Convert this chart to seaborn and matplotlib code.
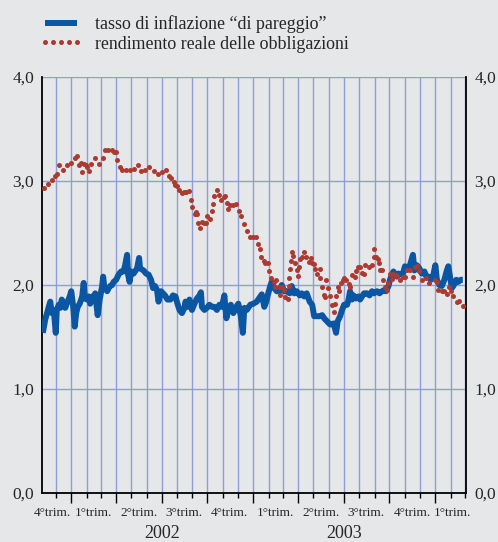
import matplotlib
matplotlib.use("Agg")
import matplotlib.pyplot as plt
import matplotlib.dates as mdates
import matplotlib.ticker as mticker
import pandas as pd
import seaborn as sns

start = pd.Timestamp("2001-11-04")

# tasso di inflazione "di pareggio" (days from start, value)
blue_days = [1, 6, 13, 16, 19, 23, 27, 29, 33, 36, 39, 43, 46, 49, 55, 58, 62, 65, 68, 71,
             75, 80, 83, 85, 90, 93, 96, 100, 103, 106, 111, 115, 120, 122, 124, 130, 133, 136, 140, 143,
             148, 153, 158, 163, 166, 170, 172, 175, 178, 183, 190, 194, 196, 203, 208, 213, 218, 222, 226, 230,
             233, 238, 242, 246, 251, 257, 262, 267, 271, 275, 280, 285,
             287, 291, 295, 300, 305, 310, 315, 318, 320, 325, 330, 335, 340, 345, 350, 355, 360, 365, 369, 373,
             378, 383, 389, 393, 398, 402, 405, 410, 417, 423, 430, 437, 440, 445, 449, 453, 457, 460, 465, 470,
             476, 480, 485, 490, 496, 500, 505, 510, 516, 520, 525, 530, 536, 541, 545, 550, 556, 561, 565,
             571, 577, 584, 589, 592, 597, 601, 605, 611, 614, 617, 621, 624, 629, 634, 637, 641, 645, 651, 656,
             661, 665, 671, 676, 681, 685, 689, 694, 697, 701, 704, 707, 711, 714, 717, 723, 727, 732, 737, 743,
             746, 751, 756, 761, 766, 770, 774, 779, 784, 788, 791, 796, 801, 806, 811, 814, 818, 821, 824, 830,
             834, 839, 843]
blue_vals = [1.54, 1.67, 1.79, 1.84, 1.73, 1.76, 1.54, 1.76, 1.81, 1.78, 1.86, 1.82, 1.78, 1.82, 1.89, 1.94, 1.79, 1.60, 1.73, 1.79,
             1.82, 1.89, 2.02, 1.87, 1.86, 1.89, 1.82, 1.89, 1.87, 1.92, 1.71, 1.86, 1.99, 2.08, 1.99, 1.94, 1.97, 1.99, 2.00, 2.03,
             2.05, 2.10, 2.13, 2.13, 2.19, 2.29, 2.10, 2.03, 2.13, 2.11, 2.16, 2.26, 2.16, 2.14, 2.11, 2.10, 2.05, 1.97, 1.99, 1.95,
             1.84, 1.94, 1.92, 1.90, 1.86, 1.86, 1.90, 1.89, 1.82, 1.76, 1.73, 1.78,
             1.84, 1.79, 1.86, 1.76, 1.82, 1.87, 1.90, 1.93, 1.79, 1.76, 1.78, 1.81, 1.79, 1.79, 1.76, 1.81, 1.79, 1.90, 1.68, 1.76,
             1.81, 1.73, 1.79, 1.82, 1.70, 1.54, 1.78, 1.76, 1.81, 1.82, 1.84, 1.89, 1.91, 1.79, 1.84, 1.92, 1.99, 2.03, 1.97, 1.94,
             1.94, 2.00, 1.94, 1.94, 1.92, 1.99, 1.92, 1.94, 1.90, 1.92, 1.89, 1.92, 1.84, 1.81, 1.70, 1.70, 1.70, 1.71, 1.68,
             1.65, 1.62, 1.63, 1.54, 1.65, 1.70, 1.76, 1.81, 1.81, 1.86, 1.94, 1.86, 1.90, 1.87, 1.89, 1.86, 1.89, 1.92, 1.92, 1.90,
             1.94, 1.92, 1.94, 1.92, 1.94, 1.95, 1.94, 1.99, 2.05, 2.10, 2.13, 2.10, 2.08, 2.11, 2.10, 2.11, 2.18, 2.16, 2.19, 2.29,
             2.14, 2.19, 2.16, 2.11, 2.13, 2.08, 2.08, 2.05, 2.10, 2.19, 2.05, 2.00, 1.99, 2.05, 2.14, 2.18, 2.06, 1.97, 1.99, 2.05,
             2.03, 2.05, 2.05]

# rendimento reale delle obbligazioni
red_days = [3, 11, 19, 25, 29, 34, 41, 49, 58, 66, 70, 74, 78, 80, 83, 88, 90, 94, 98, 106,
            114, 121, 125, 132, 139, 143, 148, 150, 155, 160, 167, 175, 184, 192, 197, 206, 214, 223, 232, 240,
            248, 253, 259, 265, 267, 271, 275, 280, 285,
            289, 295, 298, 301, 307, 309, 311, 313, 317, 321, 325, 329, 331, 337, 340, 343, 345, 350, 354, 358,
            364, 367, 370, 373, 377, 382, 389, 394, 399, 405, 410, 417, 423, 429, 433, 437, 439, 445, 447, 453,
            455, 458, 464, 466, 469, 474, 477, 480, 484, 487, 492, 494, 495, 496, 498, 501, 503, 507, 510, 512,
            514, 516, 520, 524, 528, 534, 538, 541, 544, 547, 550, 556, 557, 561, 564, 567,
            569, 572, 576, 581, 584, 587, 589, 592, 595, 599, 603, 605, 609, 614, 616, 621, 626, 629, 633, 636,
            641, 644, 647, 654, 661, 664, 665, 668, 672, 675, 676, 681, 684, 688, 691, 694, 697, 701, 704, 709,
            712, 717, 723, 727, 732, 737, 743, 748, 752, 756, 761, 770, 776, 788, 791, 794, 801, 806, 811, 815,
            819, 824, 831, 836, 843]
red_vals = [2.93, 2.97, 3.01, 3.05, 3.07, 3.15, 3.11, 3.15, 3.17, 3.22, 3.24, 3.15, 3.17, 3.09, 3.16, 3.15, 3.13, 3.10, 3.16, 3.22,
            3.16, 3.22, 3.30, 3.30, 3.30, 3.28, 3.28, 3.20, 3.13, 3.11, 3.11, 3.11, 3.12, 3.15, 3.10, 3.11, 3.13, 3.10, 3.07, 3.09,
            3.11, 3.05, 3.03, 2.99, 2.96, 2.95, 2.91, 2.88, 2.89,
            2.89, 2.90, 2.82, 2.75, 2.68, 2.70, 2.68, 2.60, 2.55, 2.61, 2.60, 2.60, 2.66, 2.63, 2.71, 2.78, 2.86, 2.91, 2.87, 2.82,
            2.85, 2.86, 2.79, 2.73, 2.77, 2.77, 2.78, 2.71, 2.66, 2.59, 2.52, 2.46, 2.46, 2.46, 2.39, 2.35, 2.27, 2.23, 2.21, 2.21,
            2.13, 2.07, 2.03, 1.98, 2.05, 1.98, 1.90, 1.98, 1.95, 1.88, 1.87, 1.99, 2.07, 2.15, 2.23, 2.32, 2.28, 2.21, 2.14, 2.09,
            2.17, 2.25, 2.27, 2.32, 2.27, 2.22, 2.26, 2.21, 2.20, 2.15, 2.11, 2.15, 2.07, 1.98, 1.90, 1.88,
            2.05, 1.97, 1.89, 1.81, 1.74, 1.82, 1.89, 1.98, 1.94, 2.02, 2.05, 2.07, 2.05, 2.01, 1.98, 2.10, 2.08, 2.13, 2.17, 2.17,
            2.12, 2.11, 2.19, 2.17, 2.19, 2.27, 2.35, 2.27, 2.25, 2.21, 2.14, 2.14, 2.05, 1.98, 1.95, 2.02, 2.11, 2.06, 2.11, 2.10,
            2.09, 2.05, 2.08, 2.08, 2.14, 2.14, 2.08, 2.17, 2.18, 2.13, 2.05, 2.07, 2.02, 2.05, 2.03, 1.95, 1.94, 1.94, 1.91, 1.98,
            1.94, 1.89, 1.84, 1.85, 1.80]

series_labels = ["tasso di inflazione \u201cdi pareggio\u201d", "rendimento reale delle obbligazioni"]
quarter_labels = ["4\u00b0trim.", "1\u00b0trim.", "2\u00b0trim.", "3\u00b0trim.", "4\u00b0trim.",
                  "1\u00b0trim.", "2\u00b0trim.", "3\u00b0trim.", "4\u00b0trim.", "1\u00b0trim."]
quarter_pos = ["2001-11-25", "2002-02-14", "2002-05-16", "2002-08-15", "2002-11-15",
               "2003-02-14", "2003-05-16", "2003-08-15", "2003-11-15", "2004-02-04"]
year_labels = ["2002", "2003"]
year_pos = ["2002-07-02", "2003-07-02"]
y_ticks = [0, 1, 2, 3, 4]
y_labels = ["0,0", "1,0", "2,0", "3,0", "4,0"]

blue = pd.DataFrame({"date": start + pd.to_timedelta(blue_days, unit="D"), "val": blue_vals})
red = pd.DataFrame({"date": start + pd.to_timedelta(red_days, unit="D"), "val": red_vals})

bg = "#e6e7e8"
grid_col = "#8e9ed6"
sns.set_style("white")
plt.rcParams["font.family"] = ["Liberation Serif", "DejaVu Serif"]

fig = plt.figure(figsize=(4.98, 5.42), dpi=100, facecolor=bg)
ax = fig.add_axes([42.3 / 498, 49 / 542, 424 / 498, 416 / 542])
ax.set_facecolor(bg)

sns.lineplot(data=blue, x="date", y="val", ax=ax, color="#0b56a2", lw=4.3,
             solid_capstyle="butt", estimator=None, label=series_labels[0], zorder=3)
sns.lineplot(data=red, x="date", y="val", ax=ax, color="#ad3a30", linestyle="",
             marker="o", markersize=3.6, markeredgewidth=0, estimator=None,
             label=series_labels[1], zorder=4)

ax.set_xlim(start, start + pd.Timedelta(days=850))
ax.set_ylim(0, 4)
ax.set_xlabel("")
ax.set_ylabel("")

ax.xaxis.set_major_locator(mdates.MonthLocator(bymonth=[1, 4, 7, 10]))
ax.xaxis.set_minor_locator(mdates.MonthLocator())
ax.xaxis.set_major_formatter(mticker.NullFormatter())
ax.tick_params(axis="x", which="major", direction="out", length=7, width=1, color="black", bottom=True)
ax.tick_params(axis="x", which="minor", direction="out", length=3.5, width=1, color="black", bottom=True)
ax.grid(axis="x", which="both", color=grid_col, lw=1)
ax.grid(axis="y", which="major", color=grid_col, lw=1)

ax.set_yticks(y_ticks)
ax.set_yticklabels(y_labels)
ax.tick_params(axis="y", which="both", length=0, pad=6, labelsize=12.5,
               left=False, right=False, labelleft=True, labelright=True)

for s in ["left", "right", "bottom"]:
    ax.spines[s].set_visible(True)
    ax.spines[s].set_color("black")
    ax.spines[s].set_linewidth(1.3)
ax.spines["top"].set_visible(False)

for lab, pos in zip(quarter_labels, quarter_pos):
    ax.text(pd.Timestamp(pos), -0.048, lab, transform=ax.get_xaxis_transform(),
            ha="center", va="center", fontsize=9.5)
for lab, pos in zip(year_labels, year_pos):
    ax.text(pd.Timestamp(pos), -0.097, lab, transform=ax.get_xaxis_transform(),
            ha="center", va="center", fontsize=13)

handles, labels = ax.get_legend_handles_labels()
ax.get_legend().remove()
fig.legend(handles, labels, loc="upper left", bbox_to_anchor=(40 / 498, 1 - 15 / 542),
           frameon=False, fontsize=12.9, handlelength=2.35, handletextpad=0.7,
           labelspacing=0.15, borderpad=0, borderaxespad=0, numpoints=5)

fig.savefig("out.png", dpi=100, facecolor=bg)
